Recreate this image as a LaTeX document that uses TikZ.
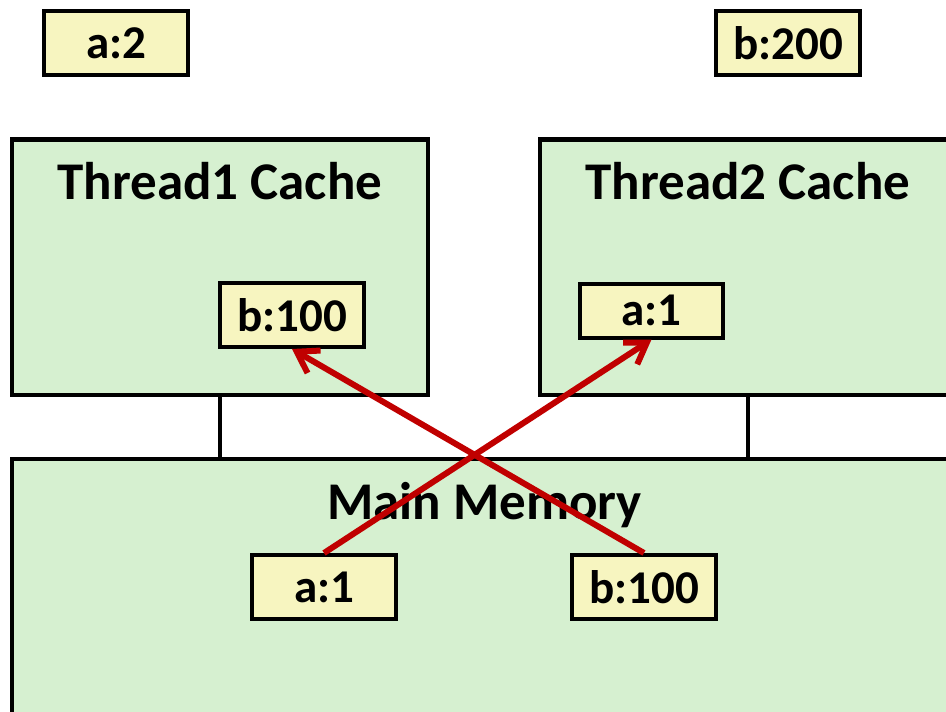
\documentclass[tikz,border=0pt]{standalone}
\usepackage{fontspec}
\setmainfont{Carlito}
\usetikzlibrary{arrows.meta}
\definecolor{cachegreen}{RGB}{214,240,208}
\definecolor{valyellow}{RGB}{247,245,192}
\definecolor{movered}{RGB}{192,0,0}

\begin{document}
\begin{tikzpicture}[x=1pt,y=-1pt,
  valbox/.style={draw=black, line width=4pt, fill=valyellow, rectangle, inner sep=0pt,
    minimum width=144pt, minimum height=64pt, font=\bfseries\fontsize{47}{56}\selectfont},
  cachebox/.style={draw=black, line width=4.5pt, fill=cachegreen, rectangle, inner sep=0pt},
  title/.style={anchor=base, font=\bfseries\fontsize{53}{64}\selectfont},
  move/.style={draw=movered, line width=6pt, -{Straight Barb[length=20pt,width=26pt]}}]
\useasboundingbox (0,0) rectangle (946,712);
\clip (0,0) rectangle (946,712);

% values held by the threads
\node[valbox] (a2) at (116,43) {a:2};
\node[valbox] (b200) at (788,43) {b:200};

% caches
\node[cachebox, minimum width=416pt, minimum height=255.5pt] (t1) at (220,267.25) {};
\node[cachebox, minimum width=416pt, minimum height=255.5pt] (t2) at (748,267.25) {};
\node[title] (t1title) at (220,199) {Thread1 Cache};
\node[title] (t2title) at (748,199) {Thread2 Cache};
\node[valbox] (t1b) at (292,315) {b:100};
\node[valbox, minimum width=143pt, minimum height=54pt] (t2a) at (651.5,310.5) {a:1};

% main memory
\node[cachebox, minimum width=945pt, minimum height=300pt] (mm) at (484.5,609) {};
\node[title] (mmtitle) at (484.5,519) {Main Memory};
\node[valbox] (ma1) at (324,587) {a:1};
\node[valbox] (mb) at (644,587) {b:100};

\draw[line width=4pt] (t1.south) -- (t1.south |- mm.north);
\draw[line width=4pt] (t2.south) -- (t2.south |- mm.north);

% loads into the caches
\draw[move] (ma1.north) -- (t2a.south);
\draw[move] (mb.north) -- (t1b.south);
\end{tikzpicture}
\end{document}
